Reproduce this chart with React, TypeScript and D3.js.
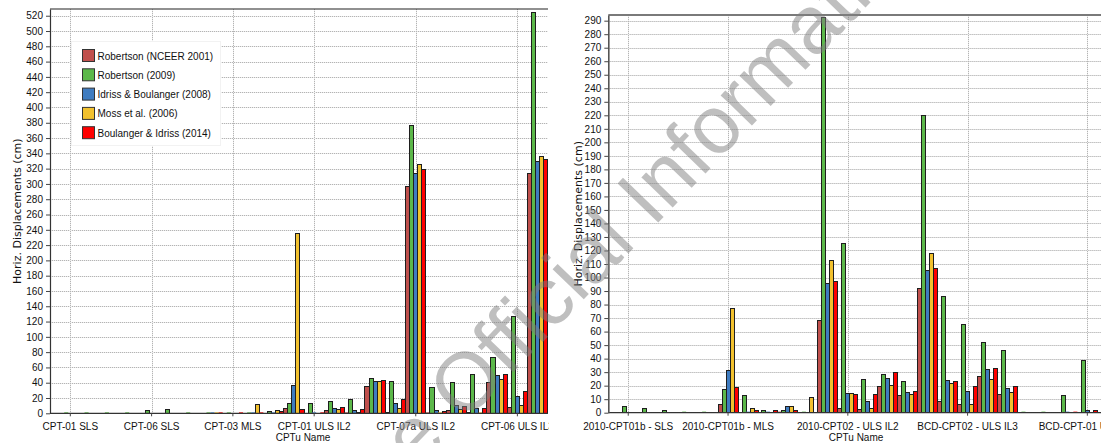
import React, { useEffect, useRef } from "react";
import * as d3 from "d3";

// Liquefaction displacement methods (series)
const SERIES_NAMES = [
  "Robertson (NCEER 2001)",
  "Robertson (2009)",
  "Idriss & Boulanger (2008)",
  "Moss et al. (2006)",
  "Boulanger & Idriss (2014)",
];
const SERIES_COLORS = ["#c0504d", "#5cb84a", "#3f7cc0", "#f2c12e", "#ff0000"];

// ---- Left panel ----
const LEFT_CATEGORIES = [
  "CPT-01 SLS", "CPT-02 SLS", "CPT-03 SLS", "CPT-04 SLS", "CPT-06 SLS", "CPT-07a SLS",
  "CPT-01 MLS", "CPT-02 MLS", "CPT-03 MLS", "CPT-04 MLS", "CPT-06 MLS", "CPT-07a MLS",
  "CPT-01 ULS IL2", "CPT-02 ULS IL2", "CPT-03 ULS IL2", "CPT-04 ULS IL2", "CPT-06 ULS IL2", "CPT-07a ULS IL2",
  "CPT-01 ULS IL3", "CPT-02 ULS IL3", "CPT-03 ULS IL3", "CPT-04 ULS IL3", "CPT-06 ULS IL3", "CPT-07a ULS IL3",
];
const LEFT_TICK_LABELS = ["CPT-01 SLS", "CPT-06 SLS", "CPT-03 MLS", "CPT-01 ULS IL2", "CPT-07a ULS IL2", "CPT-06 ULS IL3"];
const LEFT_NCEER2001 = [0, 0, 0, 0, 0, 0, 0, 0, 0, 0, 0, 6, 0, 4, 0.5, 35, 1.5, 296, 0.3, 3.9, 1.5, 40.5, 7, 313.4];
const LEFT_ROB2009 = [0.3, 0.3, 0.3, 0.3, 3.5, 5, 0.3, 0.3, 0.3, 0.3, 2.5, 12.6, 12.6, 15.3, 17.9, 45.8, 41.8, 376.6, 34, 39.7, 51, 73.2, 126, 524.4];
const LEFT_IB2008 = [0, 0, 0, 0, 0, 0, 0, 0.3, 0, 0.3, 0.5, 37, 0.5, 6, 4, 41, 12.6, 313, 3.5, 9.6, 5.7, 49.7, 22.2, 329.6];
const LEFT_MOSS2006 = [0, 0, 0, 0, 0, 0, 0, 0.3, 0, 11.8, 3.9, 235.5, 0, 4.4, 1.5, 41, 6, 324.8, 1, 5.2, 1, 44.5, 9.6, 336.5];
const LEFT_BI2014 = [0, 0, 0, 0, 0, 0, 0, 0.3, 0.3, 0.5, 2.6, 4.6, 0.5, 7.4, 4.4, 43.2, 17.9, 319.5, 2, 9.2, 5.7, 51, 27.9, 332.2];
const LEFT_Y_TICKS = [0, 20, 40, 60, 80, 100, 120, 140, 160, 180, 200, 220, 240, 260, 280, 300, 320, 340, 360, 380, 400, 420, 440, 460, 480, 500, 520];

// ---- Right panel ----
const RIGHT_CATEGORIES = [
  "2010-CPT01b - SLS", "2010-CPT02 - SLS", "BCD-CPT02 - SLS", "BCD-CPT03 - SLS", "BCD-CPT04 - SLS",
  "2010-CPT01b - MLS", "2010-CPT02 - MLS", "BCD-CPT02 - MLS", "BCD-CPT03 - MLS", "BCD-CPT04 - MLS",
  "2010-CPT01b - ULS IL2", "2010-CPT02 - ULS IL2", "BCD-CPT02 - ULS IL2", "BCD-CPT03 - ULS IL2", "BCD-CPT04 - ULS IL2",
  "2010-CPT01b - ULS IL3", "2010-CPT02 - ULS IL3", "BCD-CPT02 - ULS IL3", "BCD-CPT03 - ULS IL3", "BCD-CPT04 - ULS IL3",
  "BCD-CPT-01 SLS", "BCD-CPT-01 MLS", "BCD-CPT-01 ULS IL2", "BCD-CPT-01 ULS IL3",
];
const RIGHT_TICK_LABELS = ["2010-CPT01b - SLS", "2010-CPT01b - MLS", "2010-CPT02 - ULS IL2", "BCD-CPT02 - ULS IL3", "BCD-CPT-01 ULS IL3"];
const RIGHT_NCEER2001 = [0, 0, 0, 0, 0, 6, 0, 0, 0.5, 0, 68.3, 3, 2, 19.5, 12.8, 92, 8, 6, 27, 13.8, 0, 0, 0, 0];
const RIGHT_ROB2009 = [4.5, 3, 1.5, 0.3, 0.3, 17.2, 12.8, 1.5, 1.5, 0.3, 292.5, 125, 24.4, 28, 23, 220.2, 86, 65.4, 52, 46, 0.3, 0.3, 13, 38.3];
const RIGHT_IB2008 = [0, 0, 0, 0, 0, 31.4, 0.5, 0.5, 4.4, 0, 95.5, 14.3, 8.6, 25.4, 15, 105.4, 23.7, 15.6, 32, 18, 0, 0, 0.5, 1.5];
const RIGHT_MOSS2006 = [0, 0, 0, 0, 0, 77, 3, 0, 4.4, 11.6, 112.5, 14.3, 3, 20.2, 13.6, 118, 21.7, 6.4, 24.4, 15, 0, 0, 0, 0];
const RIGHT_BI2014 = [0, 0, 0, 0, 0, 18.5, 1.5, 1.5, 1.5, 0, 97, 13.6, 13.6, 29.4, 15.6, 107, 23, 19.5, 32.6, 19.5, 0, 0, 0.5, 1.5];
const RIGHT_Y_TICKS = [0, 10, 20, 30, 40, 50, 60, 70, 80, 90, 100, 110, 120, 130, 140, 150, 160, 170, 180, 190, 200, 210, 220, 230, 240, 250, 260, 270, 280, 290];

const Y_TITLE = "Horiz. Displacements (cm)";
const X_TITLE = "CPTu Name";
const WATERMARK_HEAD = "Released under the";
const WATERMARK_TAIL = "Official Information Act 1982";

const SANS = "'Liberation Sans', Arial, sans-serif";
const WIDE_SANS = "'DejaVu Sans', Verdana, sans-serif";

type Panel = {
  id: string;
  categories: string[];
  tickLabels: string[];
  series: number[][];
  yTicks: number[];
  yMax: number;
  left: number;
  top: number;
  bottom: number;
  right: number;
  clipLeft: number;
  clipRight: number;
  step: number;
  titleX: number;
  xTitleX: number;
  frameColor: string;
  frameWidth: number;
};

const PANELS: Panel[] = [
  {
    id: "left",
    categories: LEFT_CATEGORIES,
    tickLabels: LEFT_TICK_LABELS,
    series: [LEFT_NCEER2001, LEFT_ROB2009, LEFT_IB2008, LEFT_MOSS2006, LEFT_BI2014],
    yTicks: LEFT_Y_TICKS,
    yMax: 528.8,
    left: 50,
    top: 9,
    bottom: 413.3,
    right: 548,
    clipLeft: 0,
    clipRight: 549,
    step: 20.32,
    titleX: 20.5,
    xTitleX: 303,
    frameColor: "#222",
    frameWidth: 1.2,
  },
  {
    id: "right",
    categories: RIGHT_CATEGORIES,
    tickLabels: RIGHT_TICK_LABELS,
    series: [RIGHT_NCEER2001, RIGHT_ROB2009, RIGHT_IB2008, RIGHT_MOSS2006, RIGHT_BI2014],
    yTicks: RIGHT_Y_TICKS,
    yMax: 294.2,
    left: 608.3,
    top: 15,
    bottom: 412.7,
    right: 1101,
    clipLeft: 556,
    clipRight: 1101,
    step: 19.96,
    titleX: 581.5,
    xTitleX: 856,
    frameColor: "#7a7a7a",
    frameWidth: 1.8,
  },
];

type Sel = d3.Selection<SVGSVGElement, unknown, null, undefined>;

function drawPanel(svg: Sel, p: Panel) {
  const n = p.categories.length;
  const x = d3
    .scaleBand<string>()
    .domain(p.categories)
    .range([p.left, p.left + (n + 1) * p.step])
    .paddingInner(0)
    .paddingOuter(0.5);
  const sub = d3.scaleBand<string>().domain(SERIES_NAMES).range([0, x.bandwidth()]).padding(0);
  const y = d3.scaleLinear().domain([0, p.yMax]).range([p.bottom, p.top]);

  const clipId = `clip-${p.id}`;
  svg
    .append("clipPath")
    .attr("id", clipId)
    .append("rect")
    .attr("x", p.clipLeft)
    .attr("y", 0)
    .attr("width", p.clipRight - p.clipLeft)
    .attr("height", 443);

  const g = svg.append("g").attr("clip-path", `url(#${clipId})`);
  const crisp = (v: number) => Math.round(v) + 0.5;

  // grid
  const grid = g.append("g");
  p.yTicks
    .filter((t) => t > 0)
    .forEach((t) => {
      const yy = crisp(y(t));
      grid.append("line").attr("x1", p.left).attr("x2", p.right).attr("y1", yy).attr("y2", yy)
        .attr("stroke", "#ececec").attr("stroke-width", 1);
      grid.append("line").attr("x1", p.left).attr("x2", p.right).attr("y1", yy).attr("y2", yy)
        .attr("stroke", "#b4b4b4").attr("stroke-width", 1).attr("stroke-dasharray", "1,1");
    });
  p.tickLabels.forEach((c) => {
    const xx = crisp(x(c)! + x.bandwidth() / 2);
    grid.append("line").attr("x1", xx).attr("x2", xx).attr("y1", p.top).attr("y2", p.bottom)
      .attr("stroke", "#ececec").attr("stroke-width", 1);
    grid.append("line").attr("x1", xx).attr("x2", xx).attr("y1", p.top).attr("y2", p.bottom)
      .attr("stroke", "#b4b4b4").attr("stroke-width", 1).attr("stroke-dasharray", "1,1");
  });

  // bars
  const bars = g.append("g");
  p.categories.forEach((c, i) => {
    SERIES_NAMES.forEach((s, si) => {
      const v = p.series[si][i];
      if (!(v > 0)) return;
      const x0 = x(c)! + sub(s)!;
      const h = p.bottom - y(v);
      if (h < 1) {
        bars.append("rect").attr("x", x0).attr("y", p.bottom - 1.2).attr("width", sub.bandwidth())
          .attr("height", 1.2).attr("fill", SERIES_COLORS[si]).attr("opacity", 0.75);
      } else {
        bars.append("rect").attr("x", x0).attr("y", y(v)).attr("width", sub.bandwidth()).attr("height", h)
          .attr("fill", SERIES_COLORS[si]).attr("stroke", "#1e1e1e").attr("stroke-width", 1)
          .attr("shape-rendering", "crispEdges");
      }
    });
  });

  // frame: left axis, top edge, baseline
  g.append("line").attr("x1", p.left).attr("x2", p.right).attr("y1", p.top).attr("y2", p.top)
    .attr("stroke", p.frameColor).attr("stroke-width", p.frameWidth);
  g.append("line").attr("x1", p.left).attr("x2", p.right).attr("y1", p.bottom).attr("y2", p.bottom)
    .attr("stroke", "#333").attr("stroke-width", 1.2);

  // y axis
  const yAxis = d3
    .axisLeft(y)
    .tickValues(p.yTicks)
    .tickSize(4)
    .tickSizeOuter(0)
    .tickPadding(3)
    .tickFormat((d) => String(d));
  const ya = g.append("g").attr("transform", `translate(${p.left},0)`).call(yAxis);
  ya.select(".domain").attr("stroke", p.id === "left" ? "#333" : "#555").attr("stroke-width", p.id === "left" ? 1.2 : 1.6);
  ya.selectAll(".tick line").attr("stroke", "#444");
  ya.selectAll(".tick text").attr("font-family", SANS).attr("font-size", 10).attr("fill", "#111");

  // x ticks and labels
  p.tickLabels.forEach((c) => {
    const xx = x(c)! + x.bandwidth() / 2;
    g.append("line").attr("x1", xx).attr("x2", xx).attr("y1", p.bottom).attr("y2", p.bottom + 3)
      .attr("stroke", "#444");
    g.append("text").attr("x", xx).attr("y", p.bottom + 17).attr("text-anchor", "middle")
      .attr("font-family", SANS).attr("font-size", 10).attr("fill", "#111").text(c);
  });

  // axis titles
  g.append("text").attr("x", p.xTitleX).attr("y", 441).attr("text-anchor", "middle")
    .attr("font-family", SANS).attr("font-size", 10).attr("fill", "#111").text(X_TITLE);
  const cy = (p.top + p.bottom) / 2;
  g.append("text")
    .attr("transform", `translate(${p.titleX},${cy}) rotate(-90)`)
    .attr("text-anchor", "middle")
    .attr("font-family", WIDE_SANS)
    .attr("font-size", 11)
    .attr("fill", "#111")
    .text(Y_TITLE);
}

function drawLegend(svg: Sel) {
  const lg = svg.append("g");
  lg.append("rect").attr("x", 71.5).attr("y", 41.5).attr("width", 149).attr("height", 104)
    .attr("fill", "#fff").attr("stroke", "#f2f2f2");
  SERIES_NAMES.forEach((s, i) => {
    const top = 49.5 + i * 19.3;
    lg.append("rect").attr("x", 82.5).attr("y", top).attr("width", 12).attr("height", 12)
      .attr("fill", SERIES_COLORS[i]).attr("stroke", "#333").attr("stroke-width", 1);
    lg.append("text").attr("x", 97.5).attr("y", top + 10).attr("font-family", SANS)
      .attr("font-size", 10).attr("fill", "#111").text(s);
  });
}

function drawWatermark(svg: Sel) {
  const wm = svg.append("g").attr("transform", "translate(464,423.5) rotate(-46)")
    .attr("font-family", SANS).attr("font-size", 82).attr("fill", "#808080").attr("opacity", 0.5);
  wm.append("text").attr("x", -22).attr("y", 0).attr("text-anchor", "end").text(WATERMARK_HEAD);
  wm.append("text").attr("x", 0).attr("y", 0).attr("text-anchor", "start").text(WATERMARK_TAIL);
}

export default function App() {
  const ref = useRef<SVGSVGElement>(null);
  useEffect(() => {
    if (!ref.current) return;
    const svg = d3.select(ref.current);
    svg.selectAll("*").remove();
    PANELS.forEach((p) => drawPanel(svg, p));
    drawLegend(svg);
    drawWatermark(svg);
  }, []);
  return (
    <svg
      ref={ref}
      width={1101}
      height={443}
      style={{ position: "absolute", left: 0, top: 0, background: "#fff", display: "block" }}
    />
  );
}
